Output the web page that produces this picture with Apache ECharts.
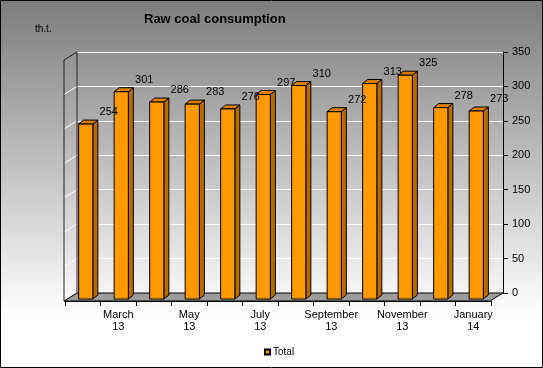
<!DOCTYPE html>
<html><head><meta charset="utf-8">
<script src="https://cdn.jsdelivr.net/npm/echarts@6/dist/echarts.min.js"></script>
<style>html,body{margin:0;padding:0;background:#fff}#c{width:543px;height:368px}</style>
</head><body><div id="c"></div>
<script>
const categories = ['February\n13','March\n13','April\n13','May\n13','June\n13','July\n13','August\n13','September\n13','October\n13','November\n13','December\n13','January\n14'];
const totalValues = [254,301,286,283,276,297,310,272,313,325,278,273];
const yMin = 0, yMax = 350, yStep = 50;
const FONT = '"Liberation Sans", Arial, sans-serif';

const chart = echarts.init(document.getElementById('c'), null, {renderer:'canvas'});

function renderBar(params, api){
  const i = api.value(0), v = api.value(1);
  const top = api.coord([i, v]), base = api.coord([i, 0]);
  const w = api.size([1, 0])[0] * 0.4;
  const dx = -9, dy = 6, d = 5, h = 4;
  const x0 = top[0] + dx - w / 2, x1 = x0 + w, yt = top[1] + dy, yb = base[1] + dy;
  return {type:'group', children:[
    {type:'polygon', z2:1, shape:{points:[[x1,yt],[x1+d,yt-h],[x1+d,yb-h],[x1,yb]]}, style:{fill:'#B86C00', stroke:'#000', lineWidth:1}},
    {type:'polygon', z2:1, shape:{points:[[x0,yt],[x0+d,yt-h],[x1+d,yt-h],[x1,yt]]}, style:{fill:'#D98000', stroke:'#000', lineWidth:1}},
    {type:'rect', z2:2, shape:{x:x0, y:yt, width:w, height:yb-yt}, style:{fill:'#FF9900', stroke:'#000', lineWidth:1}},
    {type:'text', z2:100, style:{x: top[0] + 14, y: top[1] - 6, text:String(v), align:'center', verticalAlign:'middle', fill:'#000', fontSize:11, fontFamily:FONT}}
  ]};
}

function renderDecor(params, api){
  const cs = params.coordSys;
  const L = cs.x, R = cs.x + cs.width, T = cs.y, B = cs.y + cs.height;
  const fx = -13, fy = 8;
  const children = [];
  children.push({type:'polygon', shape:{points:[[L,B],[R,B],[R+fx,B+fy],[L+fx,B+fy]]}, style:{fill:'#9c9c9c', stroke:'#000', lineWidth:1}});
  for (let v = yMin + yStep; v < yMax; v += yStep) {
    const p = api.coord([0, v]);
    children.push({type:'line', shape:{x1:L+fx, y1:p[1]+fy, x2:L, y2:p[1]}, style:{stroke:'#fff', lineWidth:1}});
  }
  children.push({type:'line', shape:{x1:L+fx, y1:T+fy, x2:L, y2:T}, style:{stroke:'#222', lineWidth:1}});
  children.push({type:'line', shape:{x1:L+fx, y1:T+fy, x2:L+fx, y2:B+fy}, style:{stroke:'#222', lineWidth:1}});
  children.push({type:'line', shape:{x1:L, y1:T, x2:L, y2:B}, style:{stroke:'#222', lineWidth:1}});
  return {type:'group', children};
}

chart.setOption({
  animation:false,
  textStyle:{fontFamily:FONT},
  graphic:[{type:'rect', z:-10, shape:{x:0.5,y:0.5,width:542,height:367},
    style:{fill:new echarts.graphic.LinearGradient(0,0,0,1,[{offset:0,color:'#7c7c7c'},{offset:0.86,color:'#ffffff'},{offset:1,color:'#ffffff'}]), stroke:'#000', lineWidth:1}}],
  title:[
    {text:'Raw coal consumption', left:144, top:13, padding:0, textStyle:{fontSize:13, fontWeight:'bold', color:'#000', fontFamily:FONT}},
    {text:'th.t.', left:35, top:24, padding:0, textStyle:{fontSize:10, fontWeight:'normal', color:'#000', fontFamily:FONT}}
  ],
  legend:{data:['Total'], left:264, top:347, padding:0, itemWidth:5, itemHeight:5, itemGap:3, icon:'rect',
    textStyle:{fontSize:10, color:'#000', fontFamily:FONT, padding:[0,0,0,-2]}},
  grid:[
    {left:77, right:40, top:52, bottom:75},
    {left:65, right:52, top:60, bottom:67}
  ],
  xAxis:[
    {type:'category', gridIndex:0, data:categories, show:false},
    {type:'category', gridIndex:1, data:categories, boundaryGap:true,
      axisLine:{lineStyle:{color:'#000', width:1}},
      axisTick:{show:true, interval:0, length:5, lineStyle:{color:'#000'}},
      axisLabel:{interval:(idx)=>idx % 2 === 1, color:'#000', fontSize:11, lineHeight:12, margin:8, fontFamily:FONT},
      splitLine:{show:false}}
  ],
  yAxis:[
    {type:'value', gridIndex:0, position:'right', min:yMin, max:yMax, interval:yStep,
      axisLine:{show:true, lineStyle:{color:'#000'}},
      axisTick:{show:true, length:5, lineStyle:{color:'#000'}},
      axisLabel:{color:'#000', fontSize:11, margin:9, fontFamily:FONT},
      splitLine:{show:true, lineStyle:{color:'#ffffff', width:1}}},
    {type:'value', gridIndex:1, min:yMin, max:yMax, show:false}
  ],
  series:[
    {name:'decor', type:'custom', xAxisIndex:0, yAxisIndex:0, silent:true, z:1, renderItem:renderDecor, data:[[0,0]]},
    {name:'Total', type:'custom', xAxisIndex:0, yAxisIndex:0, z:3, itemStyle:{color:'#FF9900', borderColor:'#000', borderWidth:1},
      renderItem:renderBar, data:totalValues.map((v,i)=>[i,v])}
  ]
});
</script></body></html>
